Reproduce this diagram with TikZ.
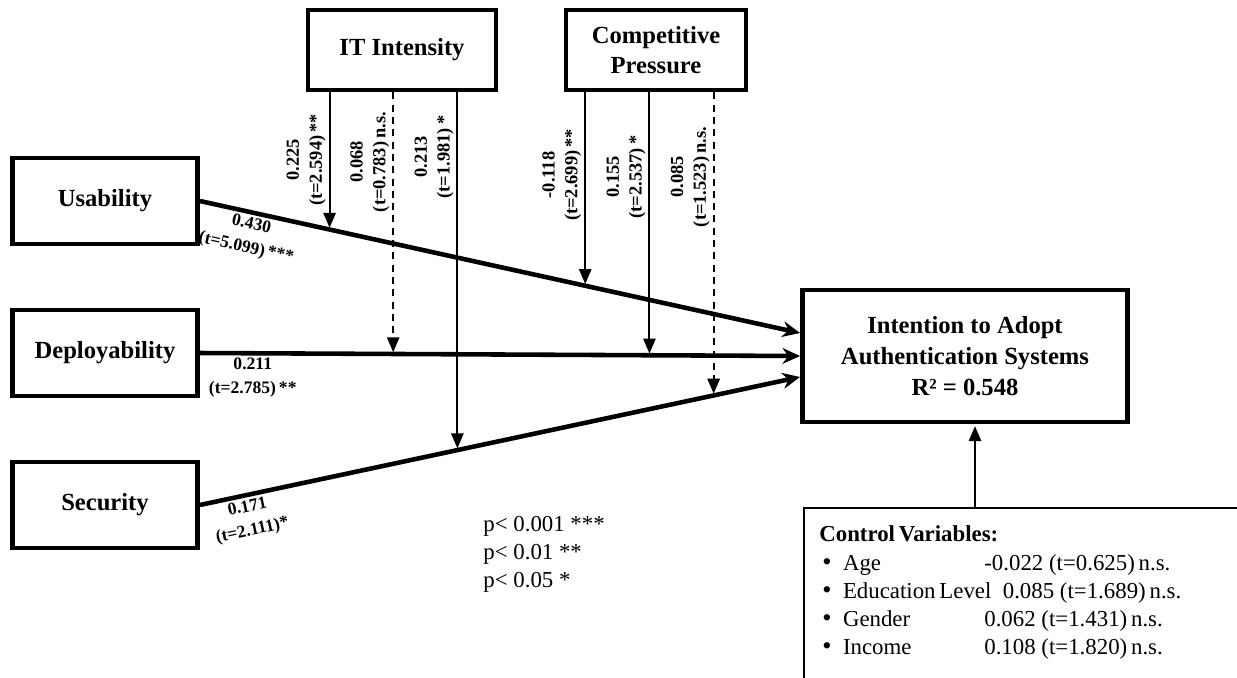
\documentclass[tikz,border=0pt]{standalone}
\usepackage{fontspec}
\setmainfont{Liberation Serif}
\usetikzlibrary{arrows.meta,positioning,calc}

\newcommand{\cvbullet}{{\fontsize{15}{15}\selectfont\textbullet}\enspace}

\begin{document}
\begin{tikzpicture}[x=0.02cm, y=-0.02cm,
    var/.style={draw, line width=2.8pt, minimum width=3.7cm, minimum height=1.72cm, align=center, font=\fontsize{14}{18}\selectfont\bfseries},
    main/.style={-{Stealth[length=10pt,width=9pt]}, line width=2.6pt},
    mod/.style={-{Triangle[length=8.5pt,width=7pt]}, line width=1.1pt, shorten >=1pt},
    moddash/.style={mod, dash pattern=on 4pt off 3pt},
    plbl/.style={font=\fontsize{10}{13.5}\selectfont\bfseries, align=center, inner sep=1.5pt},
    vlbl/.style={plbl, font=\fontsize{10.5}{13}\selectfont\bfseries, rotate=90, anchor=south, inner sep=2pt},
    note/.style={font=\fontsize{13}{16}\selectfont, inner sep=0pt}
]
\useasboundingbox (0,0) rectangle (1237,677);
\clip (0,0) rectangle (1237,677);

% constructs
\node[var] (U) at (105,201) {Usability};
\node[var] (D) at (105,353) {Deployability};
\node[var] (S) at (105,505) {Security};
\node[var, minimum width=3.76cm, minimum height=1.6cm] (IT) at (402,50) {IT Intensity};
\node[var, minimum width=3.6cm, minimum height=1.6cm, font=\fontsize{14}{17}\selectfont\bfseries] (CP) at (656,50) {Competitive\\Pressure};
\node[var, minimum width=6.5cm, minimum height=2.64cm, font=\fontsize{14}{17.5}\selectfont\bfseries] (Y) at (965,356) {Intention to Adopt\\Authentication Systems\\R² = 0.548};

% direct paths
\draw[main] (U.east) -- node[plbl, sloped, below, pos=0.09] {0.430\\(t=5.099)\,***}
    coordinate[pos=0.216] (mUa) coordinate[pos=0.642] (mUb) ([yshift=0.46cm]Y.west);
\draw[main] (D.east) -- node[plbl, below, pos=0.088] {0.211\\(t=2.785)\,**}
    coordinate[pos=0.322] (mDa) coordinate[pos=0.749] (mDb) (Y.west);
\draw[main] (S.east) -- node[plbl, sloped, below, pos=0.075] {0.171\\(t=2.111)*}
    coordinate[pos=0.429] (mSa) coordinate[pos=0.856] (mSb) ([yshift=-0.42cm]Y.west);

% moderating effects
\draw[mod] (mUa |- IT.south) -- (mUa);
\draw[moddash] (mDa |- IT.south) -- (mDa);
\draw[mod] (mSa |- IT.south) -- (mSa);
\draw[mod] (mUb |- CP.south) -- (mUb);
\draw[mod] (mDb |- CP.south) -- (mDb);
\draw[moddash] (mSb |- CP.south) -- (mSb);

\node[vlbl] (lUa) at (mUa |- 0,160) {0.225\\(t=2.594)\,**};
\node[vlbl] (lDa) at (mDa |- 0,162) {0.068\\(t=0.783)\,n.s.};
\node[vlbl] (lSa) at (mSa |- 0,157) {0.213\\(t=1.981)\,*};
\node[vlbl] (lUb) at (mUb |- 0,175) {-0.118\\(t=2.699)\,**};
\node[vlbl] (lDb) at (mDb |- 0,177) {0.155\\(t=2.537)\,*};
\node[vlbl] (lSb) at (mSb |- 0,177) {0.085\\(t=1.523)\,n.s.};

% significance legend
\node[note, align=left, anchor=north west] (pv) at (483,516) {p< 0.001 ***\\p< 0.01 **\\p< 0.05 *};

% control variables
\node[draw, line width=1.2pt, anchor=north west, minimum width=10cm, minimum height=4cm] (CV) at (803,507) {};
\draw[mod] (975,0 |- CV.north) -- (975,0 |- Y.south);
\node[note, anchor=base west, font=\fontsize{13}{16}\selectfont\bfseries] (cvt) at (819,541) {Control\,Variables:};
\node[note, anchor=base west] (c1) at (822,570) {\cvbullet Age};
\node[note, anchor=base west] (c2) at (822,598) {\cvbullet Education\,Level\enspace 0.085 (t=1.689)\,n.s.};
\node[note, anchor=base west] (c3) at (822,626) {\cvbullet Gender};
\node[note, anchor=base west] (c4) at (822,654) {\cvbullet Income};
\node[note, anchor=base west] (v1) at (984,570) {-0.022 (t=0.625)\,n.s.};
\node[note, anchor=base west] (v3) at (984,626) {0.062 (t=1.431)\,n.s.};
\node[note, anchor=base west] (v4) at (984,654) {0.108 (t=1.820)\,n.s.};
\end{tikzpicture}
\end{document}
